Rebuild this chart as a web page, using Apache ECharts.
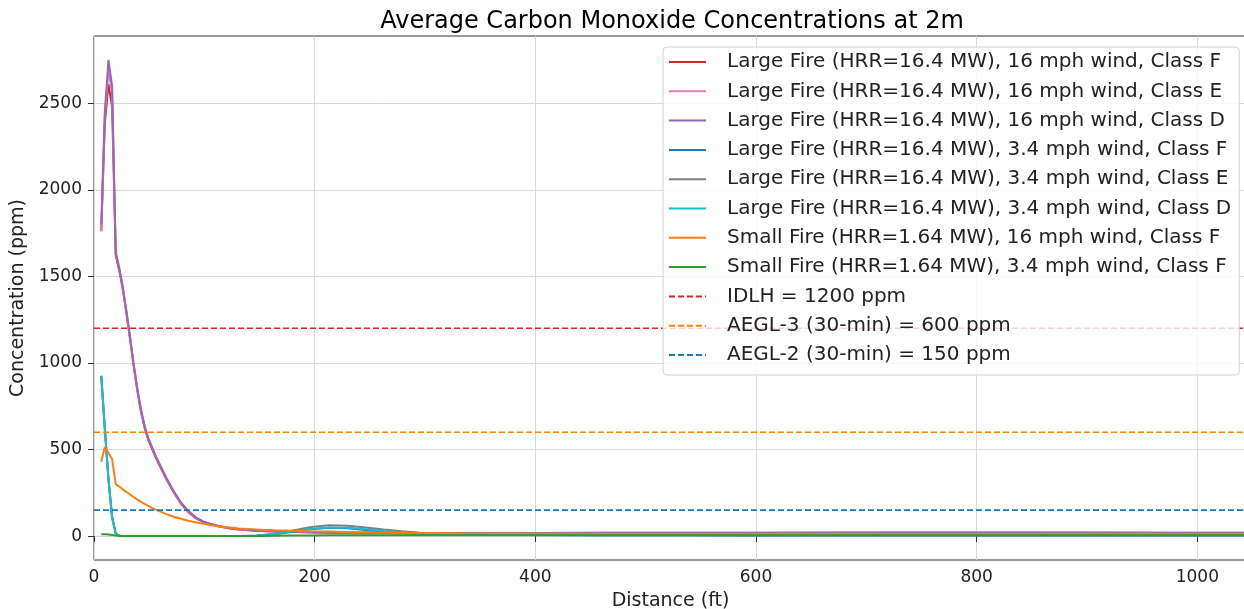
<!DOCTYPE html>
<html>
<head>
<meta charset="utf-8">
<title>Average Carbon Monoxide Concentrations at 2m</title>
<script src="https://cdn.jsdelivr.net/npm/echarts@6/dist/echarts.min.js"></script>
<style>
  html, body { margin: 0; padding: 0; background: #fff; }
  #chart { width: 1244px; height: 609px; }
</style>
</head>
<body>
<div id="chart"></div>
<script>
// distance from the fire (ft), shared by every model run
const distFt = [6.6, 9.8, 13.1, 16.4, 19.7, 23.0, 26.2, 29.5, 32.8, 36.1,
  39.4, 42.7, 45.9, 49.2, 52.5, 55.8, 59.1, 65.6, 72.2, 78.7,
  85.3, 91.9, 98.4, 105.0, 111.5, 118.1, 124.7, 131.2, 147.6, 164.0,
  180.4, 196.9, 213.3, 229.7, 246.1, 262.5, 278.9, 295.3, 328.1, 393.7,
  459.3, 524.9, 590.6, 656.2, 721.8, 787.4, 853.0, 918.6, 984.3, 1049.9]

// CO concentration (ppm)
const large16F = [1760, 2380, 2610, 2480, 1620, 1530, 1420, 1280, 1130, 975,
  835, 715, 625, 555, 505, 455, 412, 328, 253, 189,
  140, 105, 82, 68, 58, 49, 43, 38, 30, 26,
  23, 21, 19, 18, 17, 16, 15, 15, 14, 14,
  14, 15, 15, 16, 16, 16, 16, 16, 16, 16]
const large16E = [1760, 2420, 2690, 2560, 1630, 1540, 1430, 1290, 1140, 982,
  842, 722, 632, 562, 512, 462, 418, 333, 257, 193,
  144, 108, 85, 71, 60, 51, 45, 40, 32, 28,
  25, 23, 21, 20, 19, 18, 18, 18, 18, 18,
  19, 19, 20, 20, 21, 21, 21, 20, 20, 20]
const large16D = [1800, 2450, 2750, 2600, 1640, 1545, 1435, 1295, 1145, 987,
  847, 727, 636, 566, 515, 465, 421, 336, 260, 195,
  146, 110, 86, 72, 61, 52, 46, 41, 33, 28,
  25, 23, 21, 20, 19, 18, 18, 18, 18, 18,
  19, 19, 20, 21, 21, 21, 21, 21, 20, 20]
const large34F = [925, 620, 330, 110, 15, 2, 0, 0, 0, 0,
  0, 0, 0, 0, 0, 0, 0, 0, 0, 0,
  0, 0, 0, 0, 0, 0, 0, 0, 2, 10,
  25, 40, 48, 45, 35, 26, 18, 13, 9, 6,
  5, 5, 4, 4, 4, 4, 4, 4, 4, 4]
const large34E = [925, 620, 330, 110, 15, 2, 0, 0, 0, 0,
  0, 0, 0, 0, 0, 0, 0, 0, 0, 0,
  0, 0, 0, 0, 0, 0, 0, 0, 3, 14,
  33, 52, 62, 60, 50, 38, 28, 20, 12, 8,
  6, 6, 5, 5, 5, 5, 5, 5, 5, 5]
const large34D = [925, 620, 330, 110, 15, 2, 0, 0, 0, 0,
  0, 0, 0, 0, 0, 0, 0, 0, 0, 0,
  0, 0, 0, 0, 0, 0, 0, 0, 2, 12,
  28, 43, 50, 48, 40, 30, 22, 16, 10, 7,
  5, 5, 5, 5, 5, 5, 5, 5, 5, 5]
const small16F = [430, 515, 480, 445, 300, 285, 270, 255, 240, 225,
  211, 198, 186, 174, 163, 153, 144, 127, 112, 100,
  89, 80, 72, 64, 57, 52, 48, 44, 38, 34,
  31, 28, 26, 24, 22, 20, 19, 18, 16, 15,
  14, 14, 13, 13, 13, 13, 13, 13, 13, 13]
const small34F = [10, 11, 9, 6, 3, 2, 1, 1, 0, 0,
  0, 0, 0, 0, 0, 0, 0, 0, 0, 0,
  0, 0, 0, 0, 0, 0, 0, 0, 1, 2,
  3, 4, 5, 5, 5, 5, 5, 5, 5, 5,
  5, 5, 5, 5, 5, 5, 5, 5, 5, 5]

// exposure limits (ppm)
const limitNames = ['IDLH = 1200 ppm', 'AEGL-3 (30-min) = 600 ppm', 'AEGL-2 (30-min) = 150 ppm']
const limitValues = [1200, 600, 150]

const runNames = [
  'Large Fire (HRR=16.4 MW), 16 mph wind, Class F',
  'Large Fire (HRR=16.4 MW), 16 mph wind, Class E',
  'Large Fire (HRR=16.4 MW), 16 mph wind, Class D',
  'Large Fire (HRR=16.4 MW), 3.4 mph wind, Class F',
  'Large Fire (HRR=16.4 MW), 3.4 mph wind, Class E',
  'Large Fire (HRR=16.4 MW), 3.4 mph wind, Class D',
  'Small Fire (HRR=1.64 MW), 16 mph wind, Class F',
  'Small Fire (HRR=1.64 MW), 3.4 mph wind, Class F'
]
const runValues = [large16F, large16E, large16D, large34F, large34E, large34D, small16F, small34F]
const runColors = ['#d62728', '#e377c2', '#9467bd', '#1f77b4', '#7f7f7f', '#17becf', '#ff7f0e', '#2ca02c']
const limitColors = ['#d62728', '#ff7f0e', '#1f77b4']

const xTicks = [0, 200, 400, 600, 800, 1000]
const yTicks = [0, 500, 1000, 1500, 2000, 2500]

const font = 'DejaVu Sans'

let series = []
runNames.forEach((name, i) => {
  series.push({
    name: name,
    type: 'line',
    data: distFt.map((d, j) => [d, runValues[i][j]]),
    showSymbol: false,
    symbol: 'none',
    lineStyle: { color: runColors[i], width: 2 },
    itemStyle: { color: runColors[i] },
    emphasis: { disabled: true }
  })
})
limitNames.forEach((name, i) => {
  series.push({
    name: name,
    type: 'line',
    data: [[0, limitValues[i]], [1050, limitValues[i]]],
    showSymbol: false,
    symbol: 'none',
    lineStyle: { color: limitColors[i], width: 1.6, type: [6, 3] },
    itemStyle: { color: limitColors[i] },
    emphasis: { disabled: true }
  })
})

let chart = echarts.init(document.getElementById('chart'))
let option = {
  animation: false,
  backgroundColor: '#fff',
  title: {
    text: 'Average Carbon Monoxide Concentrations at 2m',
    left: 667,
    top: 5,
    textAlign: 'center',
    textStyle: { fontFamily: font, fontSize: 24, fontWeight: 'normal', color: '#000' }
  },
  grid: {
    left: 94,
    top: 36,
    right: -3,
    bottom: 49,
    outerBoundsMode: 'none',
    containLabel: false,
    show: true,
    borderColor: '#333',
    borderWidth: 1
  },
  legend: {
    orient: 'vertical',
    left: 663,
    top: 47,
    padding: [5, 8, 10, 5],
    itemWidth: 37,
    itemHeight: 2,
    itemGap: 9.3,
    icon: 'inherit',
    itemStyle: { opacity: 0 },
    backgroundColor: 'rgba(255,255,255,0.8)',
    borderColor: '#d0d0d0',
    borderWidth: 1,
    borderRadius: 4,
    data: runNames.concat(limitNames),
    textStyle: { fontFamily: font, fontSize: 20, color: '#222', lineHeight: 20, padding: [0, 0, 0, 16] }
  },
  xAxis: {
    type: 'value',
    min: 0,
    max: 1045,
    name: 'Distance (ft)',
    nameLocation: 'middle',
    nameGap: 32,
    nameTextStyle: { fontFamily: font, fontSize: 19, color: '#222' },
    axisLine: { show: false },
    axisTick: { show: true, customValues: xTicks, length: 6, lineStyle: { color: '#333' } },
    axisLabel: { customValues: xTicks, formatter: v => String(v), fontFamily: font, fontSize: 17, color: '#222', margin: 9 },
    splitLine: { show: true, lineStyle: { color: '#d9d9d9', width: 1 } }
  },
  yAxis: {
    type: 'value',
    min: -138,
    max: 2888,
    name: 'Concentration (ppm)',
    nameLocation: 'middle',
    nameRotate: 90,
    nameGap: 59,
    nameTextStyle: { fontFamily: font, fontSize: 19, color: '#222' },
    axisLine: { show: false },
    axisTick: { show: true, customValues: yTicks, length: 6, lineStyle: { color: '#333' } },
    axisLabel: { customValues: yTicks, formatter: v => String(v), fontFamily: font, fontSize: 17, color: '#222', margin: 12 },
    splitLine: { show: true, lineStyle: { color: '#d9d9d9', width: 1 } }
  },
  series: series
}
chart.setOption(option)
</script>
</body>
</html>
